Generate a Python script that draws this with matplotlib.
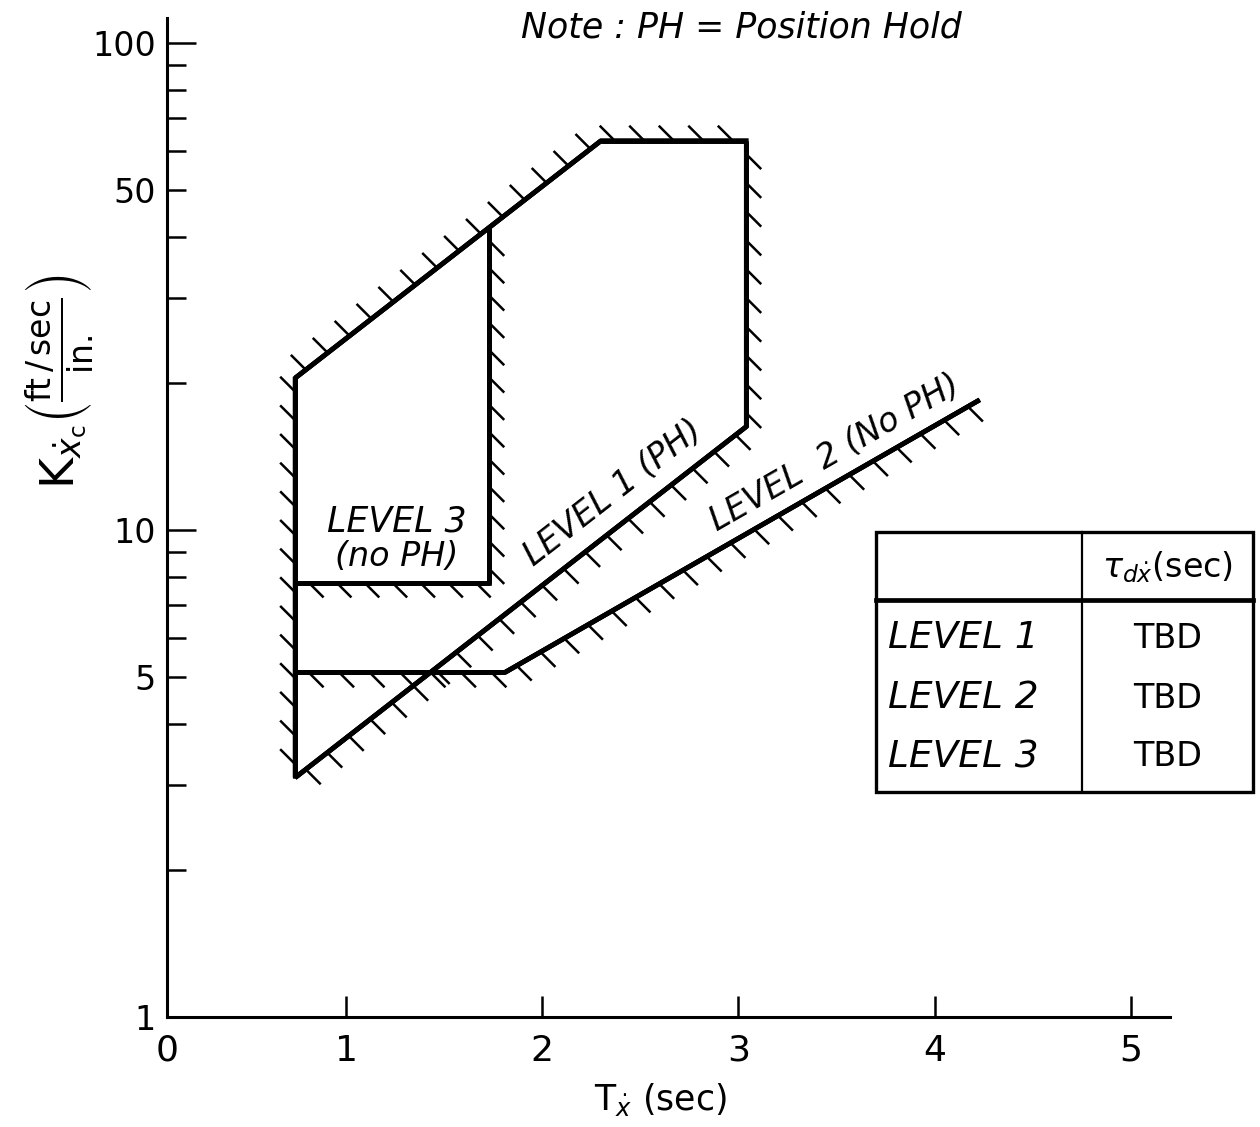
import numpy as np
import matplotlib
matplotlib.use("Agg")
import matplotlib.pyplot as plt
from matplotlib import patheffects as pe
from matplotlib.ticker import FixedLocator, FuncFormatter
from matplotlib.patches import Rectangle
from matplotlib.lines import Line2D

plt.rcParams['font.family'] = ['DejaVu Sans']
plt.rcParams['mathtext.fontset'] = 'dejavusans'

# ---------------- data ----------------
# outer boundary (Level 1, with position hold)
outer_T = [0.74, 0.74, 2.30, 3.04, 3.04, 0.74]
outer_K = [3.1, 20.5, 63.0, 63.0, 16.3, 3.1]
outer_side = [+1, +1, +1, -1, -1]      # +1 hatch up-left, -1 hatch down-right
# Level 3 (no PH) box: right edge and floor
lvl3_T = [1.73, 1.73, 0.74]
lvl3_K = [41.8, 7.8, 7.8]
lvl3_side = [-1, -1]
# Level 2 (No PH) floor
lvl2_T = [0.74, 1.81, 4.23]
lvl2_K = [5.1, 5.1, 18.5]
lvl2_side = [-1, -1]

x_ticks = [1, 2, 3, 4, 5]
x_ticklabels = ['1', '2', '3', '4', '5']
y_major = [1, 10, 100]
y_minor = [2, 3, 4, 5, 6, 7, 8, 9, 20, 30, 40, 50, 60, 70, 80, 90]
y_labeled = [1, 5, 10, 50, 100]

table_levels = ['LEVEL 1', 'LEVEL 2', 'LEVEL 3']
table_tau = ['TBD', 'TBD', 'TBD']

# ---------------- figure ----------------
W, H = 1260, 1127
fig = plt.figure(figsize=(W / 100, H / 100), dpi=100)
ax = fig.add_axes([167 / W, 110 / H, (1170 - 167) / W, (1017 - 18) / H])
ax.set_yscale('log')
ax.set_xlim(0.087, 5.2)
ax.set_ylim(1, 112.5)

for s in ['top', 'right']:
    ax.spines[s].set_visible(False)
for s in ['left', 'bottom']:
    ax.spines[s].set_linewidth(2.2)

ax.set_xticks([ax.get_xlim()[0]] + x_ticks, ['0'] + x_ticklabels)
ax.tick_params(axis='x', direction='in', length=15, width=1.8, labelsize=26, pad=12)

ax.yaxis.set_major_locator(FixedLocator(y_major))
ax.yaxis.set_minor_locator(FixedLocator(y_minor))
fmt = FuncFormatter(lambda v, p: ('%g' % v) if any(abs(v - t) < 1e-6 for t in y_labeled) else '')
ax.yaxis.set_major_formatter(fmt)
ax.yaxis.set_minor_formatter(fmt)
ax.tick_params(axis='y', which='major', direction='in', length=21, width=1.8, labelsize=24, pad=8)
ax.tick_params(axis='y', which='minor', direction='in', length=14, width=1.8, labelsize=24, pad=8)


def hatched(T, K, sides):
    pts = ax.transData.transform(np.column_stack([T, K]))
    ax.plot(T, K, color='black', lw=3.4, solid_joinstyle='miter', solid_capstyle='butt', zorder=3)
    for i, s in enumerate(sides):
        d = pts[i + 1] - pts[i]
        ang_line = np.degrees(np.arctan2(d[1], d[0]))
        tick_dir = 135.0 if s > 0 else -45.0
        ax.plot(T[i:i + 2], K[i:i + 2], color='black', lw=3.4, solid_capstyle='butt', zorder=3,
                path_effects=[pe.withTickedStroke(spacing=19.5, angle=tick_dir - ang_line,
                                                  length=0.78, linewidth=1.8),
                              pe.Normal()])


hatched(outer_T, outer_K, outer_side)
hatched(lvl3_T, lvl3_K, lvl3_side)
hatched(lvl2_T, lvl2_K, lvl2_side)


def seg_angle(T, K, i, j):
    p = ax.transData.transform(np.column_stack([[T[i], T[j]], [K[i], K[j]]]))
    d = p[1] - p[0]
    return np.degrees(np.arctan2(d[1], d[0]))


ang1 = seg_angle(outer_T, outer_K, 5, 4)
ang2 = seg_angle(lvl2_T, lvl2_K, 1, 2)

ax.text(2.36, 11.9, 'LEVEL 1 (PH)', style='italic', fontsize=24, rotation=ang1,
        rotation_mode='anchor', ha='center', va='center')
ax.text(3.49, 14.4, 'LEVEL  2 (No PH)', style='italic', fontsize=24, rotation=ang2,
        rotation_mode='anchor', ha='center', va='center')
ax.text(1.26, 10.4, 'LEVEL 3', style='italic', fontsize=25, ha='center', va='center')
ax.text(1.26, 8.8, '(no PH)', style='italic', fontsize=24, ha='center', va='center')

# axis labels and note
fig.text(60 / W, 1 - 382 / H,
         r'$\mathrm{K}_{\dot{x}_{\mathrm{c}}}\left(\frac{\mathrm{ft\,/\,sec}}{\mathrm{in.}}\right)$',
         rotation=90, ha='center', va='center', fontsize=34)
fig.text(660 / W, 1 - 1100 / H, r'$\mathrm{T}_{\dot{x}}$ (sec)', ha='center', va='center', fontsize=25)
fig.text(741 / W, 1 - 28 / H, 'Note : PH = Position Hold', style='italic', ha='center', va='center',
         fontsize=25)

# table
L, R, T_, B = 876 / W, 1253 / W, 1 - 532 / H, 1 - 792 / H
xd, yh = 1082 / W, 1 - 600 / H
fig.add_artist(Rectangle((L, B), R - L, T_ - B, transform=fig.transFigure, fill=False,
                         lw=2.4, edgecolor='black'))
fig.add_artist(Line2D([xd, xd], [B, T_], transform=fig.transFigure, lw=1.6, color='black'))
fig.add_artist(Line2D([L, R], [yh, yh], transform=fig.transFigure, lw=3.4, color='black'))
fig.text((xd + R) / 2, 1 - 567 / H, r'$\tau_{d\dot{x}}$(sec)', ha='center', va='center', fontsize=24)
row_y = [638, 698, 757]
for lev, tau, yy in zip(table_levels, table_tau, row_y):
    fig.text(888 / W, 1 - yy / H, lev, style='italic', ha='left', va='center', fontsize=27)
    fig.text((xd + R) / 2, 1 - yy / H, tau, ha='center', va='center', fontsize=24)

fig.savefig('out.png', dpi=100)
